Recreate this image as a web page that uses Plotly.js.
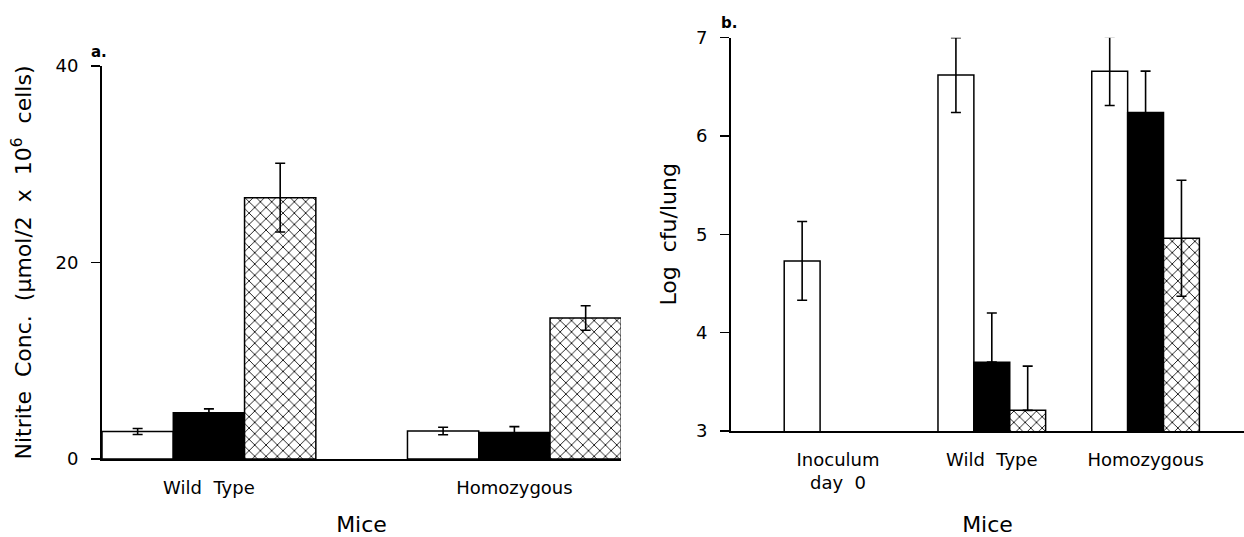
<!DOCTYPE html>
<html>
<head>
<meta charset="utf-8">
<script src="https://cdn.plot.ly/plotly-3.0.1.min.js"></script>
<style>html,body{margin:0;padding:0;background:#fff;}#chart{width:1244px;height:537px;}</style>
</head>
<body>
<div id="chart"></div>
<script>
// ---- Panel a: nitrite concentration ----
var groupsA = ["Wild\u00a0\u00a0Type", "Homozygous"];
var openA = [2.8, 2.85];
var openAErr = [0.3, 0.38];
var solidA = [4.7, 2.7];
var solidAErr = [0.4, 0.6];
var hatchA = [26.6, 14.35];
var hatchAErr = [3.5, 1.25];
var tickValsA = [0, 20, 40];

// ---- Panel b: log cfu/lung ----
var groupsB = ["Inoculum<br>day\u00a0\u00a00", "Wild\u00a0\u00a0Type", "Homozygous"];
var openB = [4.73, 6.62, 6.66];
var openBErrPlus = [0.4, 0.38, 0.35];
var openBErrMinus = [0.4, 0.38, 0.35];
var solidB = [null, 3.7, 6.24];
var solidBErrPlus = [0, 0.5, 0.42];
var solidBErrMinus = [0, 0, 0.42];
var hatchB = [null, 3.21, 4.96];
var hatchBErrPlus = [0, 0.45, 0.59];
var hatchBErrMinus = [0, 0, 0.59];
var tickValsB = [3, 4, 5, 6, 7];

var FONT = "DejaVu Sans, sans-serif";
var lineStyle = {color: "#000", width: 1.5};
function err(plus, minus) {
  return {type: "data", array: plus, arrayminus: minus, symmetric: minus === undefined,
          color: "#000", thickness: 1.6, width: 5, visible: true};
}
var openStyle = {color: "#fff", line: lineStyle};
var solidStyle = {color: "#000", line: lineStyle};
var hatchStyle = {color: "#fff", line: lineStyle,
  pattern: {shape: "x", size: 8, solidity: 0.2, fgcolor: "#000", bgcolor: "#fff", fillmode: "replace"}};

var data = [
  {type: "bar", x: groupsA, y: openA, error_y: err(openAErr), marker: openStyle, xaxis: "x", yaxis: "y", showlegend: false, hoverinfo: "y"},
  {type: "bar", x: groupsA, y: solidA, error_y: err(solidAErr), marker: solidStyle, xaxis: "x", yaxis: "y", showlegend: false, hoverinfo: "y"},
  {type: "bar", x: groupsA, y: hatchA, error_y: err(hatchAErr), marker: hatchStyle, xaxis: "x", yaxis: "y", showlegend: false, hoverinfo: "y"},
  {type: "bar", x: groupsB, y: openB, error_y: err(openBErrPlus, openBErrMinus), marker: openStyle, xaxis: "x2", yaxis: "y2", showlegend: false, hoverinfo: "y"},
  {type: "bar", x: groupsB, y: solidB, error_y: err(solidBErrPlus, solidBErrMinus), marker: solidStyle, xaxis: "x2", yaxis: "y2", showlegend: false, hoverinfo: "y"},
  {type: "bar", x: groupsB, y: hatchB, error_y: err(hatchBErrPlus, hatchBErrMinus), marker: hatchStyle, xaxis: "x2", yaxis: "y2", showlegend: false, hoverinfo: "y"}
];

var W = 1244, H = 537;
function fx(px) { return px / W; }
function fy(py) { return (H - py) / H; }

var xCommon = {type: "category", showgrid: false, zeroline: false, showline: true, linecolor: "#000", linewidth: 2,
  ticks: "", ticklabelstandoff: 11, tickfont: {family: FONT, size: 18, color: "#000"}, fixedrange: true};
var yCommon = {showgrid: false, zeroline: false, showline: true, linecolor: "#000", linewidth: 2,
  ticks: "outside", ticklen: 9, tickwidth: 1.5, tickcolor: "#000", ticklabelstandoff: 9,
  tickfont: {family: FONT, size: 18, color: "#000"}, fixedrange: true};

var layout = {
  width: W, height: H,
  margin: {l: 0, r: 0, t: 0, b: 0},
  paper_bgcolor: "#fff", plot_bgcolor: "rgba(0,0,0,0)",
  barmode: "group", bargap: 0.3, bargroupgap: 0,
  font: {family: FONT, color: "#000"},
  xaxis: Object.assign({}, xCommon, {domain: [fx(102), fx(621)], range: [-0.35, 1.349], anchor: "y",
    title: {text: "Mice", font: {family: FONT, size: 22, color: "#000"}, standoff: 22}}),
  yaxis: Object.assign({}, yCommon, {domain: [fy(459), fy(66)], range: [0, 40], tickvals: tickValsA, anchor: "x",
    title: {text: "Nitrite\u00a0\u00a0Conc.\u00a0\u00a0(\u03bcmol/2\u00a0\u00a0x\u00a0\u00a010<sup>6</sup>\u00a0\u00a0cells)", font: {family: FONT, size: 22, color: "#000"}, standoff: 18}}),
  xaxis2: Object.assign({}, xCommon, {domain: [fx(731), 1], range: [-0.696, 2.64], anchor: "y2",
    title: {text: "Mice", font: {family: FONT, size: 22, color: "#000"}, standoff: 29}}),
  yaxis2: Object.assign({}, yCommon, {domain: [fy(431), fy(37.7)], range: [3, 7], tickvals: tickValsB, anchor: "x2",
    title: {text: "Log\u00a0\u00a0cfu/lung\u00a0\u00a0", font: {family: FONT, size: 22, color: "#000"}, standoff: 13}}),
  annotations: [
    {text: "<b>a.</b>", xref: "paper", yref: "paper", x: fx(99), y: fy(63), xanchor: "center", yanchor: "bottom", showarrow: false, font: {family: FONT, size: 15, color: "#000"}},
    {text: "<b>b.</b>", xref: "paper", yref: "paper", x: fx(729), y: fy(34), xanchor: "center", yanchor: "bottom", showarrow: false, font: {family: FONT, size: 15, color: "#000"}}
  ]
};

Plotly.newPlot("chart", data, layout, {displayModeBar: false, staticPlot: true});
</script>
</body>
</html>
